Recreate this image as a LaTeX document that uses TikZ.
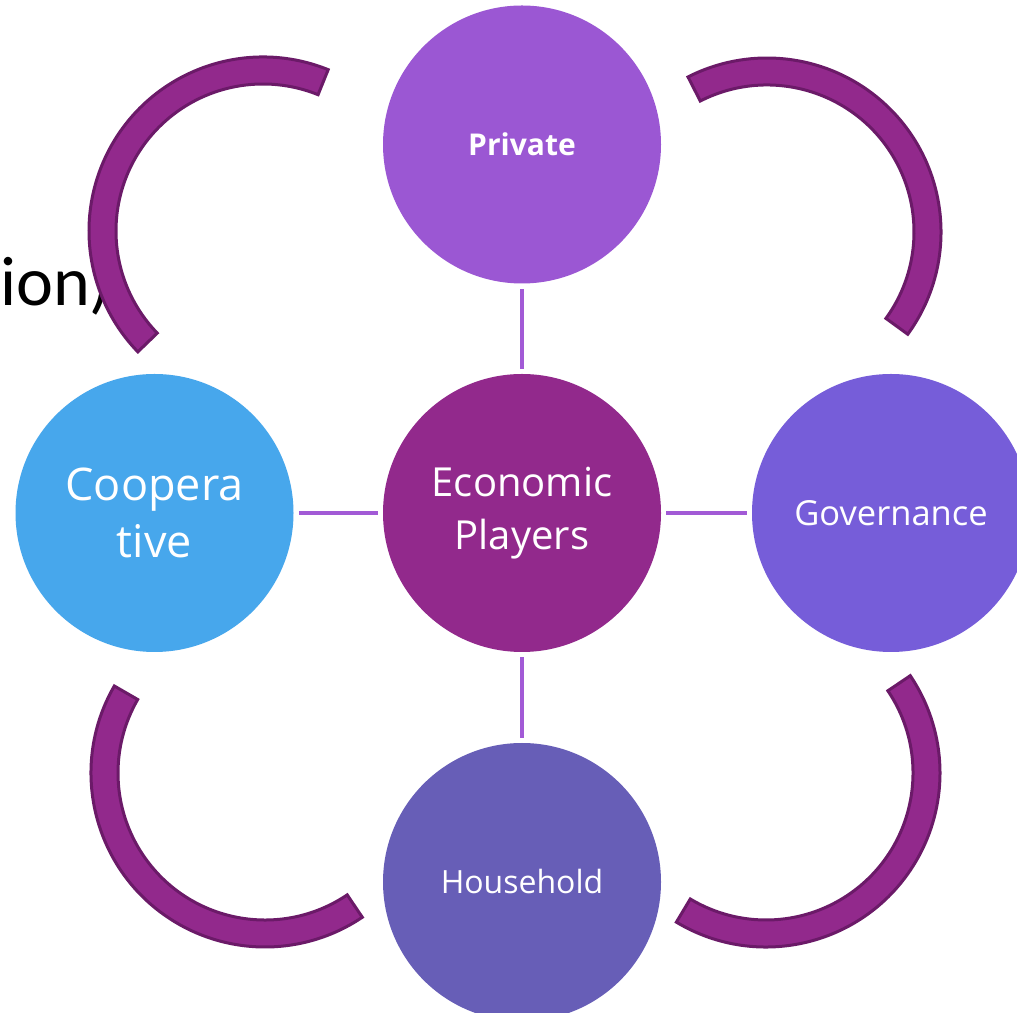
\documentclass[tikz,border=0pt]{standalone}
\usepackage{fontspec}
\setmainfont{Carlito}
\newfontfamily\lbl{Open Sans}[Ligatures=NoCommon]
\definecolor{cPriv}{HTML}{9B57D3}
\definecolor{cCtr}{HTML}{92298C}
\definecolor{cCoop}{HTML}{47A7EC}
\definecolor{cGov}{HTML}{765DD9}
\definecolor{cHouse}{HTML}{675EB7}
\definecolor{cSpoke}{HTML}{A25AD6}
\definecolor{cArc}{HTML}{92298C}
\definecolor{cArcB}{HTML}{6B1A68}
\tikzset{
  bubble/.style={circle, minimum size=278pt, inner sep=0pt, text=white, align=center},
  spoke/.style={draw=cSpoke, line width=4pt, shorten >=5pt, shorten <=5pt},
  ring/.style={fill=cArc, draw=cArcB, line width=3pt, line join=miter},
}
\begin{document}
\begin{tikzpicture}[x=1pt,y=1pt]
\useasboundingbox (0,0) rectangle (1017,1012);
\clip (0,0) rectangle (1017,1012);
\fill[white] (0,0) rectangle (1017,1012);
% background slide text
\node[anchor=base west, inner sep=0pt, font=\fontsize{70}{84}\selectfont] (bgtext) at (0,706) {ion)};
% circles
\node[bubble, fill=cCtr, font=\lbl\fontsize{40}{53}\selectfont] (ctr) at (522,499) {Economic\\Players};
\node[bubble, fill=cPriv, font=\lbl\fontsize{30}{36}\selectfont\bfseries] (priv) at (522,867.5) {Private};
\node[bubble, fill=cCoop, font=\lbl\fontsize{45}{57}\selectfont] (coop) at (154.5,499) {Coopera\\tive};
\node[bubble, fill=cGov, font=\lbl\fontsize{34.5}{42}\selectfont] (gov) at (891,499) {Governance};
\node[bubble, fill=cHouse, font=\lbl\fontsize{32}{40}\selectfont] (house) at (522,130) {Household};
% spokes
\draw[spoke] (ctr) -- (priv);
\draw[spoke] (ctr) -- (coop);
\draw[spoke] (ctr) -- (gov);
\draw[spoke] (ctr) -- (house);
% arcs
\draw[ring, shift={(263,781)}] (68:174) arc[start angle=68, end angle=224, radius=174] -- (224:147) arc[start angle=224, end angle=68, radius=147] -- cycle;
\draw[ring, shift={(767,780)}] (-36:174) arc[start angle=-36, end angle=117, radius=174] -- (117:147) arc[start angle=117, end angle=-36, radius=147] -- cycle;
\draw[ring, shift={(265,239)}] (150:174) arc[start angle=150, end angle=304, radius=174] -- (304:147) arc[start angle=304, end angle=150, radius=147] -- cycle;
\draw[ring, shift={(766,239)}] (-121:174) arc[start angle=-121, end angle=34, radius=174] -- (34:147) arc[start angle=34, end angle=-121, radius=147] -- cycle;
\end{tikzpicture}
\end{document}
